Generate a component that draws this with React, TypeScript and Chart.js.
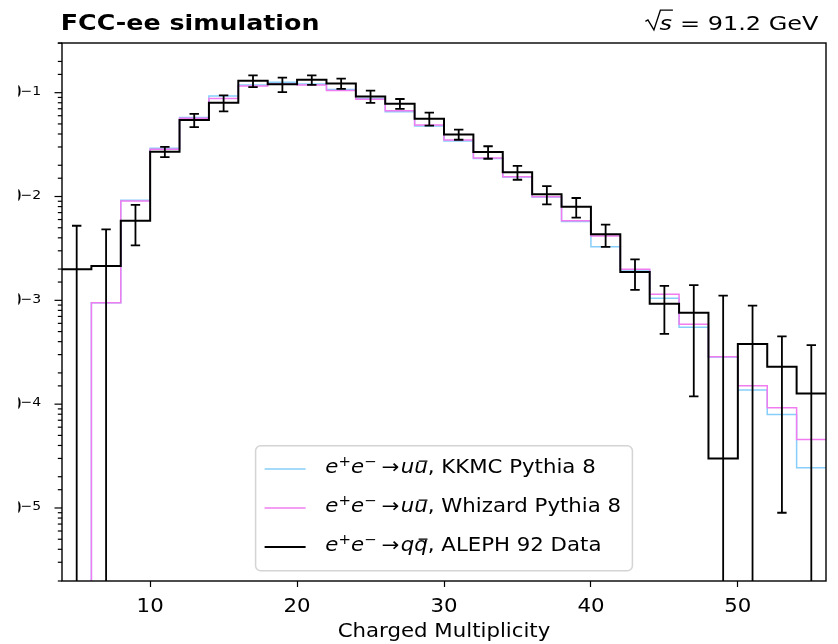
import { useEffect, useRef } from 'react';
import { Chart, registerables } from 'chart.js';

Chart.register(...registerables);

// ---------------- data ----------------
const BIN_EDGES = [4, 6, 8, 10, 12, 14, 16, 18, 20, 22, 24, 26, 28, 30, 32, 34, 36, 38, 40, 42, 44, 46, 48, 50, 52, 54, 56];
const BIN_CENTERS = [5, 7, 9, 11, 13, 15, 17, 19, 21, 23, 25, 27, 29, 31, 33, 35, 37, 39, 41, 43, 45, 47, 49, 51, 53, 55];

const ALEPH_DATA = [
  1.99e-3, 2.14e-3, 5.85e-3, 0.027, 0.0546, 0.0801, 0.13, 0.1205, 0.133, 0.1226,
  0.0921, 0.0783, 0.0562, 0.0396, 0.0268, 0.0171, 0.0105, 0.00797, 0.00432, 0.00187,
  9.25e-4, 7.59e-4, 3.0e-5, 3.79e-4, 2.29e-4, 1.27e-4,
];
const ALEPH_ERR = [
  3.24e-3, 2.69e-3, 2.46e-3, 3.1e-3, 8.0e-3, 1.4e-2, 1.7e-2, 1.93e-2, 1.4e-2, 1.4e-2,
  1.24e-2, 8.6e-3, 8.0e-3, 4.4e-3, 3.7e-3, 2.6e-3, 2.1e-3, 1.7e-3, 1.05e-3, 6.1e-4,
  4.5e-4, 6.4e-4, 1.08e-3, 5.1e-4, 2.2e-4, 2.44e-4,
];
const KKMC_PYTHIA = [
  0, 9.5e-4, 9.19e-3, 0.0291, 0.0577, 0.0929, 0.1186, 0.1259, 0.1212, 0.1073,
  0.0879, 0.0656, 0.0478, 0.0342, 0.0232, 0.0154, 0.0099, 0.00574, 0.00328, 0.00196,
  1.045e-3, 5.49e-4, 2.84e-4, 1.367e-4, 7.97e-5, 2.44e-5,
];
const WHIZARD_PYTHIA = [
  0, 9.48e-4, 9.05e-3, 0.0285, 0.0567, 0.0879, 0.116, 0.1212, 0.1186, 0.105,
  0.0864, 0.0671, 0.0488, 0.035, 0.0235, 0.0155, 0.00996, 0.00585, 0.00416, 0.00199,
  1.145e-3, 5.87e-4, 2.86e-4, 1.504e-4, 9.23e-5, 4.56e-5,
];

const X_TICKS = [10, 20, 30, 40, 50];
const X_MIN = 4;
const X_MAX = 56;
const Y_MIN = 1.98e-6;
const Y_MAX = 0.301;

const TITLE = 'FCC-ee simulation';
const ENERGY_VAR = 's';
const ENERGY_TEXT = '= 91.2 GeV';
const X_LABEL = 'Charged Multiplicity';

const LEGEND_QUARKS = ['u', 'u', 'q'];
const LEGEND_NAMES = [', KKMC Pythia 8', ', Whizard Pythia 8', ', ALEPH 92 Data'];

// ---------------- style ----------------
const BLUE = '#87cefa';
const MAGENTA = '#f07cf0';
const BLACK = '#000000';
const FONT = '"DejaVu Sans", sans-serif';
const SX = 1.12;

function drawText(
  ctx: CanvasRenderingContext2D,
  s: string,
  x: number,
  y: number,
  size: number,
  o: { bold?: boolean; italic?: boolean; align?: CanvasTextAlign; sx?: number; dry?: boolean; color?: string } = {}
) {
  const sx = o.sx ?? SX;
  ctx.save();
  ctx.font = `${o.italic ? 'italic ' : ''}${o.bold ? 'bold ' : ''}${size}px ${FONT}`;
  const w = ctx.measureText(s).width * sx;
  if (!o.dry) {
    ctx.fillStyle = o.color ?? '#000';
    ctx.textAlign = o.align ?? 'left';
    ctx.textBaseline = 'alphabetic';
    ctx.translate(x, y);
    ctx.scale(sx, 1);
    ctx.fillText(s, 0, 0);
  }
  ctx.restore();
  return w;
}

function drawProcess(ctx: CanvasRenderingContext2D, x: number, base: number, quark: string, rest: string, fs: number, dry: boolean) {
  let cx = x;
  const sup = fs * 0.7;
  const raise = fs * 0.38;
  cx += drawText(ctx, 'e', cx, base, fs, { italic: true, dry });
  cx += drawText(ctx, '+', cx, base - raise, sup, { dry });
  cx += drawText(ctx, 'e', cx, base, fs, { italic: true, dry });
  cx += drawText(ctx, '\u2212', cx, base - raise, sup, { dry });
  cx += 5;
  cx += drawText(ctx, '\u2192', cx, base, fs, { dry });
  cx += 1.5;
  cx += drawText(ctx, quark, cx, base, fs, { italic: true, dry });
  const w = drawText(ctx, quark, cx, base, fs, { italic: true, dry });
  if (!dry) {
    ctx.save();
    ctx.strokeStyle = '#000';
    ctx.lineWidth = 1.3;
    ctx.beginPath();
    ctx.moveTo(cx + w * 0.32, base - fs * 0.64);
    ctx.lineTo(cx + w * 0.98, base - fs * 0.64);
    ctx.stroke();
    ctx.restore();
  }
  cx += w;
  cx += drawText(ctx, rest, cx, base, fs, { dry });
  return cx - x;
}

function steps(vals: number[]) {
  const pts = vals.map((v, i) => ({ x: BIN_EDGES[i], y: v > 0 ? v : 1e-12 }));
  const last = vals[vals.length - 1];
  pts.push({ x: BIN_EDGES[BIN_EDGES.length - 1], y: last > 0 ? last : 1e-12 });
  return pts;
}

const decor = {
  id: 'decor',
  afterDatasetsDraw(chart: any) {
    const { ctx, chartArea: a, scales } = chart;
    const xs = scales.x;
    const ys = scales.y;
    // error bars
    ctx.save();
    ctx.beginPath();
    ctx.rect(a.left, a.top, a.right - a.left, a.bottom - a.top);
    ctx.clip();
    ctx.strokeStyle = BLACK;
    ctx.lineWidth = 1.8;
    const cap = 4.7;
    BIN_CENTERS.forEach((c, i) => {
      const v = ALEPH_DATA[i];
      const e = ALEPH_ERR[i];
      const px = xs.getPixelForValue(c);
      const top = ys.getPixelForValue(v + e);
      const lowOk = v - e > 0;
      const bot = lowOk ? ys.getPixelForValue(v - e) : a.bottom + 10;
      ctx.beginPath();
      ctx.moveTo(px, top);
      ctx.lineTo(px, bot);
      ctx.moveTo(px - cap, top);
      ctx.lineTo(px + cap, top);
      if (lowOk) {
        ctx.moveTo(px - cap, bot);
        ctx.lineTo(px + cap, bot);
      }
      ctx.stroke();
    });
    ctx.restore();

    // frame
    ctx.save();
    ctx.strokeStyle = '#000';
    ctx.lineWidth = 1.4;
    ctx.strokeRect(a.left, a.top, a.right - a.left, a.bottom - a.top);
    // y ticks
    ctx.lineWidth = 1.2;
    ys.ticks.forEach((t: any) => {
      const v = t.value;
      const ex = Math.log10(v);
      const major = Math.abs(ex - Math.round(ex)) < 1e-6;
      const py = ys.getPixelForValue(v);
      if (py < a.top - 0.5 || py > a.bottom + 0.5) return;
      ctx.beginPath();
      ctx.moveTo(a.left - (major ? 7.5 : 4.2), py);
      ctx.lineTo(a.left, py);
      ctx.stroke();
    });
    ctx.restore();
  },
  afterDraw(chart: any) {
    const { ctx, chartArea: a, scales } = chart;
    const xs = scales.x;
    const ys = scales.y;

    // y tick labels (left part cropped as in the reference)
    ctx.save();
    ctx.beginPath();
    ctx.rect(18.3, 0, chart.width, chart.height);
    ctx.clip();
    ys.ticks.forEach((t: any) => {
      const v = t.value;
      const ex = Math.log10(v);
      if (Math.abs(ex - Math.round(ex)) > 1e-6) return;
      const py = ys.getPixelForValue(v);
      const e = Math.round(ex);
      const supStr = (e < 0 ? '\u2212' : '') + String(Math.abs(e));
      const supX = a.left - 41.5;
      drawText(ctx, supStr, supX, py + 2.3, 12.5);
      drawText(ctx, '10', supX + 1.5, py + 5.8, 19, { align: 'right' });
    });
    ctx.restore();

    // x tick labels
    xs.ticks.forEach((t: any) => {
      const px = xs.getPixelForValue(t.value);
      drawText(ctx, String(t.value), px, a.bottom + 30.7, 19, { align: 'center' });
    });
    // x label
    drawText(ctx, X_LABEL, (a.left + a.right) / 2, a.bottom + 56.3, 19, { align: 'center' });

    // title
    const B = a.top - 13.4;
    drawText(ctx, TITLE, a.left - 1.2, B, 22, { bold: true, sx: 1.15 });

    // sqrt(s) = 91.2 GeV
    const rfs = 20;
    const rsx = 1.2;
    const wRest = drawText(ctx, ENERGY_TEXT, 0, 0, rfs, { sx: rsx, dry: true });
    const restX = a.right - 7.5 - wRest;
    drawText(ctx, ENERGY_TEXT, restX, B, rfs, { sx: rsx });
    const wS = drawText(ctx, ENERGY_VAR, 0, 0, rfs, { sx: rsx, italic: true, dry: true });
    const sX = restX - 8 - wS;
    drawText(ctx, ENERGY_VAR, sX, B, rfs, { sx: rsx, italic: true });
    ctx.save();
    ctx.strokeStyle = '#000';
    ctx.lineWidth = 1.4;
    ctx.lineJoin = 'miter';
    ctx.beginPath();
    ctx.moveTo(sX - 14, B - 8.3);
    ctx.lineTo(sX - 11.5, B - 9.6);
    ctx.lineTo(sX - 5.5, B + 0.3);
    ctx.lineTo(sX + 1, B - 19.5);
    ctx.lineTo(sX + wS + 1, B - 19.5);
    ctx.stroke();
    ctx.restore();

    // legend
    const fs = 19;
    const widths = LEGEND_QUARKS.map((q, i) => drawProcess(ctx, 0, 0, q, LEGEND_NAMES[i], fs, true));
    const maxW = Math.max(...widths);
    const padL = 9;
    const handle = 41;
    const gap = 19.7;
    const padR = 11.3;
    const bw = padL + handle + gap + maxW + padR;
    const bh = 125;
    const bx = (a.left + a.right) / 2 - bw / 2;
    const by = a.bottom - 10.3 - bh;
    ctx.save();
    ctx.fillStyle = 'rgba(255,255,255,0.8)';
    ctx.strokeStyle = 'rgba(204,204,204,0.85)';
    ctx.lineWidth = 1.5;
    ctx.beginPath();
    (ctx as any).roundRect(bx, by, bw, bh, 5);
    ctx.fill();
    ctx.stroke();
    ctx.restore();
    const colors = [BLUE, MAGENTA, BLACK];
    const widthsL = [1.5, 1.5, 1.8];
    LEGEND_QUARKS.forEach((q, i) => {
      const ly = by + 23.3 + i * 39;
      ctx.save();
      ctx.strokeStyle = colors[i];
      ctx.lineWidth = widthsL[i];
      ctx.beginPath();
      ctx.moveTo(bx + padL, ly);
      ctx.lineTo(bx + padL + handle, ly);
      ctx.stroke();
      ctx.restore();
      drawProcess(ctx, bx + padL + handle + gap, ly + 4.3, q, LEGEND_NAMES[i], fs, false);
    });
  },
};

export default function App() {
  const ref = useRef<HTMLCanvasElement>(null);
  useEffect(() => {
    if (!ref.current) return;
    const chart = new Chart(ref.current, {
      type: 'line',
      data: {
        datasets: [
          { label: 'ALEPH 92 Data', data: steps(ALEPH_DATA), borderColor: BLACK, borderWidth: 2, stepped: true, order: 0 },
          { label: 'Whizard Pythia 8', data: steps(WHIZARD_PYTHIA), borderColor: MAGENTA, borderWidth: 1.5, stepped: true, order: 1 },
          { label: 'KKMC Pythia 8', data: steps(KKMC_PYTHIA), borderColor: BLUE, borderWidth: 1.5, stepped: true, order: 2 },
        ],
      },
      options: {
        responsive: false,
        animation: false,
        devicePixelRatio: 1,
        layout: { padding: { left: 0, right: 12, top: 43, bottom: 0 } },
        elements: {
          point: { radius: 0, hoverRadius: 0 },
          line: { tension: 0, fill: false, borderJoinStyle: 'miter', borderCapStyle: 'butt' },
        },
        plugins: { legend: { display: false }, tooltip: { enabled: false }, title: { display: false } },
        events: [],
        scales: {
          x: {
            type: 'linear',
            min: X_MIN,
            max: X_MAX,
            afterBuildTicks: (s: any) => {
              s.ticks = X_TICKS.map((v) => ({ value: v }));
            },
            afterFit: (s: any) => {
              s.height = 63;
            },
            ticks: { display: false },
            grid: { display: true, drawOnChartArea: false, drawTicks: true, tickLength: 6, tickColor: '#000', tickWidth: 1.2 },
            border: { display: false },
          },
          y: {
            type: 'logarithmic',
            min: Y_MIN,
            max: Y_MAX,
            afterFit: (s: any) => {
              s.width = 62;
            },
            ticks: { display: false, autoSkip: false },
            grid: { display: false },
            border: { display: false },
          },
        },
      } as any,
      plugins: [decor],
    });
    return () => chart.destroy();
  }, []);
  return (
    <div style={{ position: 'fixed', left: 0, top: 0, width: 838, height: 644, overflow: 'hidden', background: '#fff' }}>
      <canvas ref={ref} width={838} height={644} style={{ width: 838, height: 644, display: 'block' }} />
    </div>
  );
}
